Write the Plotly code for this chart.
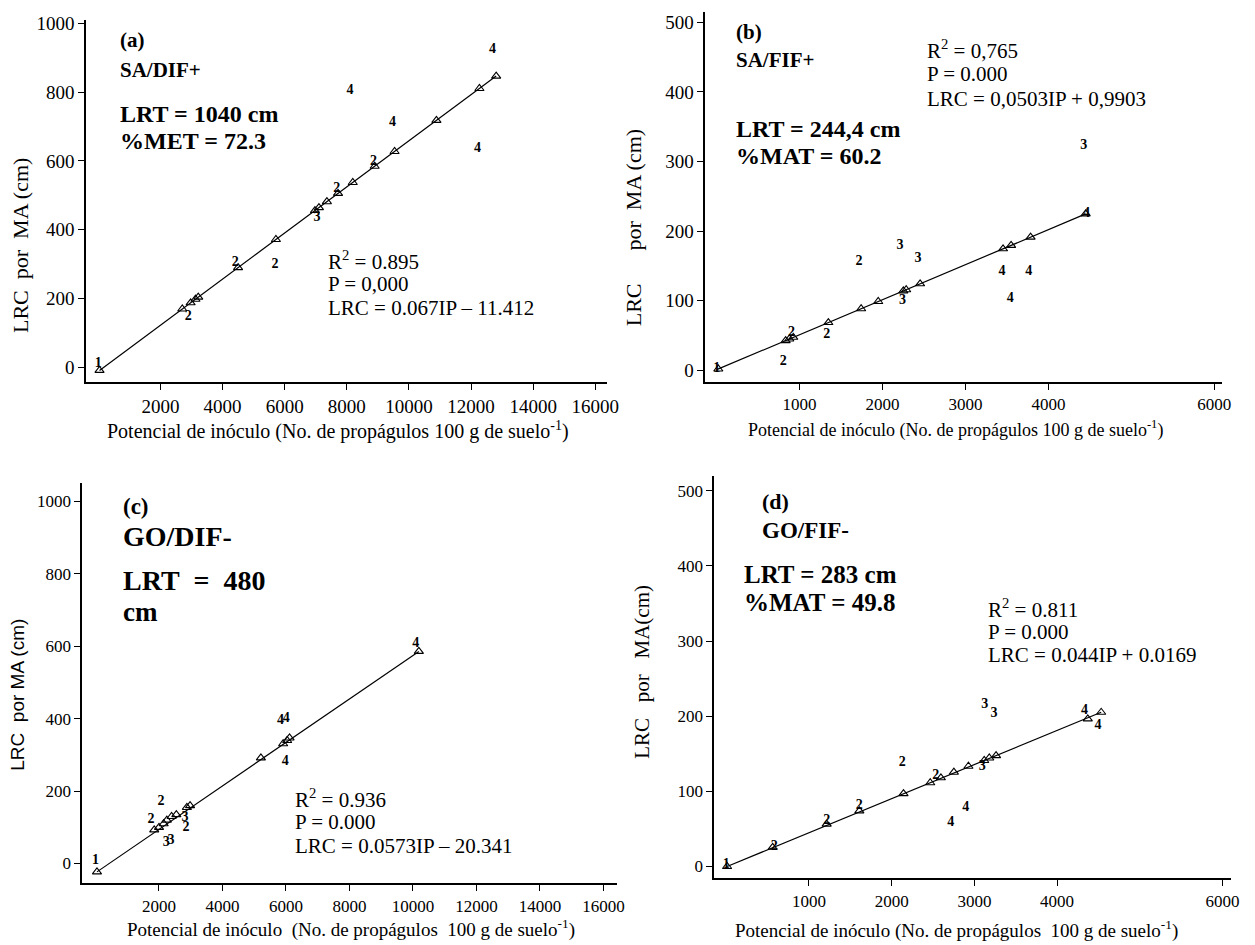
import plotly.graph_objects as go

# ---------------- data ----------------
# Panel (a) SA/DIF+
a_tri_ip = [40, 2704, 2973, 3128, 3218, 4500, 5718, 6974, 7103, 7359, 7718, 8192, 8897, 9538, 10885, 12269, 12808]
a_tri_lrc = [-8.7, 169.8, 187.8, 198.2, 204.2, 290.1, 371.7, 455.9, 464.5, 481.6, 505.7, 537.5, 584.7, 627.6, 717.9, 810.6, 846.7]
a_obs_ip = [0, 2897, 4410, 5692, 7038, 7680, 8858, 8103, 9473, 12205, 12692]
a_obs_lrc = [12, 148, 306, 299, 436, 520, 597, 806, 712, 636, 923]
a_obs_lab = ["1", "2", "2", "2", "3", "2", "2", "4", "4", "4", "4"]
a_line_ip = [40, 12808]
a_line_lrc = [-8.7, 846.7]

# Panel (b) SA/FIF+
b_tri_ip = [20, 832, 876, 924, 1347, 1742, 1948, 2251, 2285, 2453, 3453, 3550, 3785, 4449]
b_tri_lrc = [2.0, 42.8, 45.1, 47.5, 68.7, 88.6, 99.0, 114.2, 115.9, 124.4, 174.7, 179.6, 191.4, 224.8]
b_obs_ip = [0, 803, 904, 1328, 1717, 2212, 2429, 2241, 4425, 3439, 3762, 3540, 4460]
b_obs_lrc = [3, 13, 55, 52, 157, 180, 161, 100, 323, 142, 142, 103, 225]
b_obs_lab = ["1", "2", "2", "2", "2", "3", "3", "3", "3", "4", "4", "4", "4"]
b_line_ip = [0, 4449]
b_line_lrc = [1.0, 224.8]

# Panel (c) GO/DIF-
c_tri_ip = [50, 1853, 2004, 2150, 2250, 2400, 2550, 2882, 2982, 5213, 5914, 6040, 6115, 10188]
c_tri_lrc = [-23, 93, 100, 110, 120, 130, 135, 155, 160, 292, 331, 340, 347, 586]
c_obs_ip = [0, 2068, 1754, 2230, 2380, 2820, 2857, 5827, 6015, 5977, 10088]
c_obs_lrc = [9, 171, 123, 59, 64, 128, 100, 394, 402, 283, 607]
c_obs_lab = ["1", "2", "2", "3", "3", "3", "2", "4", "4", "4", "4"]
c_line_ip = [50, 10188]
c_line_lrc = [-23, 586]

# Panel (d) GO/FIF-
d_tri_ip = [10, 561, 1214, 1609, 2143, 2466, 2595, 2752, 2928, 3119, 3180, 3262, 4371, 4533]
d_tri_lrc = [0, 25.5, 56.4, 74, 96.9, 111.4, 118, 125.5, 133.4, 141, 144.4, 147.5, 196.4, 205.2]
d_obs_ip = [0, 580, 1214, 1609, 2129, 2533, 3124, 3238, 3095, 2895, 2714, 4333, 4495]
d_obs_lrc = [2, 27, 61, 81, 139, 121, 215, 204, 133, 79, 59, 207, 188]
d_obs_lab = ["1", "2", "2", "2", "2", "2", "3", "3", "3", "4", "4", "4", "4"]
d_line_ip = [10, 4533]
d_line_lrc = [0, 205.2]

x_ticks_big = [2000, 4000, 6000, 8000, 10000, 12000, 14000, 16000]
x_ticks_small = [1000, 2000, 3000, 4000, 6000]
y_ticks_1000 = [0, 200, 400, 600, 800, 1000]
y_ticks_500 = [0, 100, 200, 300, 400, 500]

# ---------------- figure ----------------
W, H = 1255, 945
SERIF = "Liberation Serif, Times New Roman, serif"
SANS = "Liberation Sans, Arial, sans-serif"
NB = "\u00a0"

fig = go.Figure()

panels = [
    ("x", "y", a_tri_ip, a_tri_lrc, a_obs_ip, a_obs_lrc, a_obs_lab, a_line_ip, a_line_lrc),
    ("x2", "y2", b_tri_ip, b_tri_lrc, b_obs_ip, b_obs_lrc, b_obs_lab, b_line_ip, b_line_lrc),
    ("x3", "y3", c_tri_ip, c_tri_lrc, c_obs_ip, c_obs_lrc, c_obs_lab, c_line_ip, c_line_lrc),
    ("x4", "y4", d_tri_ip, d_tri_lrc, d_obs_ip, d_obs_lrc, d_obs_lab, d_line_ip, d_line_lrc),
]
for xa, ya, tx, ty, ox, oy, ol, lx, ly in panels:
    fig.add_trace(go.Scatter(x=lx, y=ly, mode="lines", xaxis=xa, yaxis=ya,
                             line=dict(color="black", width=1.2), showlegend=False, hoverinfo="skip"))
    fig.add_trace(go.Scatter(x=tx, y=ty, mode="markers", xaxis=xa, yaxis=ya,
                             marker=dict(symbol="triangle-up-open", size=8, color="black",
                                         line=dict(color="black", width=1.1)),
                             showlegend=False))
    fig.add_trace(go.Scatter(x=ox, y=oy, mode="text", text=["<b>" + s + "</b>" for s in ol],
                             xaxis=xa, yaxis=ya,
                             textfont=dict(family=SERIF, size=14, color="#000000"),
                             showlegend=False))


def dom_x(p0, p1):
    return [p0 / W, p1 / W]


def dom_y(top, bottom):
    return [1 - bottom / H, 1 - top / H]


def xaxis(domain, rng, tv, anchor, size=18, fam=SERIF):
    return dict(domain=domain, range=rng, anchor=anchor, tickvals=tv,
                ticktext=[str(v) for v in tv],
                showline=True, linecolor="black", linewidth=1.5, ticks="outside",
                ticklen=6, tickcolor="black", tickwidth=1.3, showgrid=False, zeroline=False,
                tickfont=dict(family=fam, size=size, color="black"))


def yaxis(domain, rng, tv, anchor, size=18, fam=SERIF):
    return dict(domain=domain, range=rng, anchor=anchor, tickvals=tv,
                showline=True, linecolor="black", linewidth=1.5, ticks="outside",
                ticklen=6, tickcolor="black", tickwidth=1.3, showgrid=False, zeroline=False,
                tickfont=dict(family=fam, size=size, color="black"))


fig.update_layout(
    width=W, height=H, margin=dict(l=0, r=0, t=0, b=0),
    paper_bgcolor="white", plot_bgcolor="white",
    xaxis=xaxis(dom_x(87, 613), [-390, 16380], x_ticks_big, "y", 19),
    yaxis=yaxis(dom_y(13, 378), [-43, 1010], y_ticks_1000, "x", 19),
    xaxis2=xaxis(dom_x(712, 1234), [-138, 6095], x_ticks_small, "y2", 17),
    yaxis2=yaxis(dom_y(5, 378), [-17, 515], y_ticks_500, "x2", 19),
    xaxis3=xaxis(dom_x(83, 623), [-415, 16430], x_ticks_big, "y3", 17),
    yaxis3=yaxis(dom_y(480, 883), [-55, 1050], y_ticks_1000, "x3", 17),
    xaxis4=xaxis(dom_x(721, 1243), [-147, 6104], x_ticks_small, "y4", 17),
    yaxis4=yaxis(dom_y(473, 878), [-16, 519], y_ticks_500, "x4", 17),
)

annots = []


def txt(px, py, s, size=17, bold=False, xanchor="left", angle=0, fam=SERIF):
    if bold:
        s = "<b>" + s + "</b>"
    annots.append(dict(x=px / W, y=1 - py / H, xref="paper", yref="paper", text=s,
                       showarrow=False, xanchor=xanchor, yanchor="middle", textangle=angle,
                       font=dict(family=fam, size=size, color="black")))


# (a)
txt(119, 33, "(a)", 21, True)
txt(119, 63, "SA/DIF+", 21, True)
txt(119, 108, "LRT = 1040 cm", 24, True)
txt(119, 135, "%MET = 72.3", 24, True)
txt(329, 255, "R<sup>2</sup> = 0.895", 21)
txt(329, 279, "P = 0,000", 21)
txt(329, 303, "LRC = 0.067IP – 11.412", 21)
txt(20, 240, "LRC" + NB * 2 + "por" + NB * 2 + "MA (cm)", 22, angle=-90, xanchor="center")
txt(341, 427, "Potencial de inóculo (No. de propágulos 100 g de suelo<sup>-1</sup>)", 20, xanchor="center")

# (b)
txt(741, 25, "(b)", 21, True)
txt(741, 53, "SA/FIF+", 21, True)
txt(741, 123, "LRT = 244,4 cm", 24, True)
txt(741, 150, "%MAT = 60.2", 24, True)
txt(934, 43, "R<sup>2</sup> = 0,765", 21)
txt(934, 68, "P = 0.000", 21)
txt(934, 93, "LRC = 0,0503IP + 0,9903", 21)
txt(639, 222, "LRC" + NB * 6 + "por" + NB * 2 + "MA (cm)", 22, angle=-90, xanchor="center")
txt(965, 425, "Potencial de inóculo (No. de propágulos 100 g de suelo<sup>-1</sup>)", 18, xanchor="center")

# (c)
txt(122, 503, "(c)", 23, True)
txt(122, 533, "GO/DIF-", 28, True)
txt(122, 578, "LRT" + NB * 2 + "=" + NB * 2 + "480", 28, True)
txt(122, 610, "cm", 27, True)
txt(296, 797, "R<sup>2</sup> = 0.936", 21)
txt(296, 821, "P = 0.000", 21)
txt(296, 845, "LRC = 0.0573IP – 20.341", 21)
txt(18, 693, "LRC" + NB * 2 + "por MA (cm)", 19, angle=-90, xanchor="center", fam=SANS)
txt(354, 928, "Potencial de inóculo" + NB * 2 + "(No. de propágulos" + NB * 2 + "100 g de suelo<sup>-1</sup>)", 19, xanchor="center")

# (d)
txt(767, 498, "(d)", 22, True)
txt(767, 527, "GO/FIF-", 23, True)
txt(749, 572, "LRT = 283 cm", 25, True)
txt(749, 600, "%MAT = 49.8", 25, True)
txt(996, 606, "R<sup>2</sup> = 0.811", 21)
txt(996, 630, "P = 0.000", 21)
txt(996, 653, "LRC = 0.044IP + 0.0169", 21)
txt(648, 670, "LRC" + NB * 3 + "por" + NB * 3 + "MA(cm)", 21, angle=-90, xanchor="center")
txt(966, 929, "Potencial de inóculo (No. de propágulos" + NB * 2 + "100 g de suelo<sup>-1</sup>)", 19, xanchor="center")

fig.update_layout(annotations=annots)
fig.write_html("out.html")
